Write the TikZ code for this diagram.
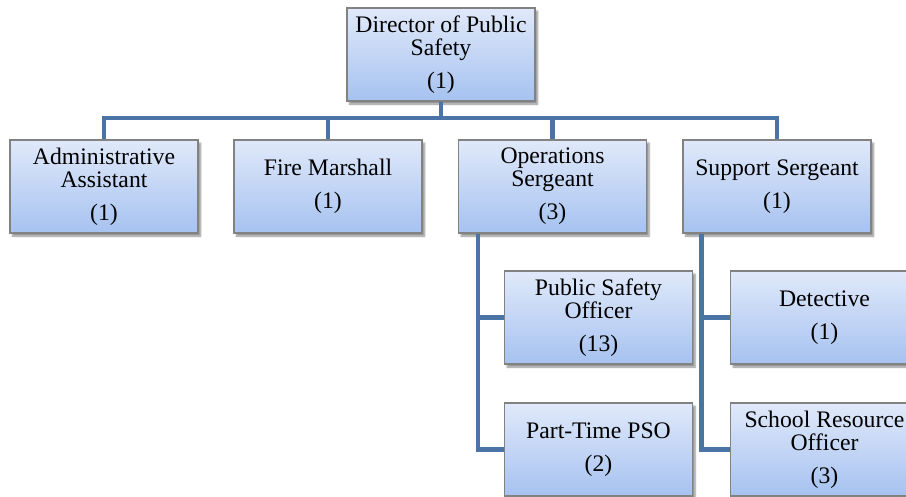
\documentclass[tikz,border=0pt]{standalone}
\usepackage{fontspec}
\setmainfont{Liberation Serif}
\usetikzlibrary{shadows.blur}
\definecolor{connblue}{RGB}{74,115,166}
\definecolor{boxtop}{RGB}{224,233,250}
\definecolor{boxbot}{RGB}{166,194,240}
\definecolor{boxedge}{RGB}{130,130,130}
\tikzset{
  orgbox/.style={draw=boxedge, line width=1.2pt, top color=boxtop, bottom color=boxbot,
    minimum width=188pt, minimum height=93pt, inner sep=0pt, align=center,
    font=\rmfamily\fontsize{23.7pt}{23pt}\selectfont,
    blur shadow={shadow xshift=2.5pt, shadow yshift=-3pt, shadow blur steps=6, shadow opacity=45}},
  conn/.style={draw=connblue, line width=4.8pt, line join=miter}
}
\begin{document}
\begin{tikzpicture}[x=1pt,y=-1pt]
\useasboundingbox (0,0) rectangle (906,496);
\clip (0,0) rectangle (906,496);
\coordinate (bus) at (441,118);
\node[orgbox] (dir) at (441,54.5) {Director of Public\\Safety\\[10pt](1)};
\node[orgbox] (admin) at (104,186.5) {Administrative\\Assistant\\[10pt](1)};
\node[orgbox] (fire) at (328,186.5) {Fire Marshall\\[10pt](1)};
\node[orgbox] (ops) at (552.5,186.5) {Operations\\Sergeant\\[10pt](3)};
\node[orgbox] (sup) at (777,186.5) {Support Sergeant\\[10pt](1)};
\node[orgbox] (pso) at (598.5,317.5) {Public Safety\\Officer\\[10pt](13)};
\node[orgbox] (pt) at (598.5,449.5) {Part-Time PSO\\[10pt](2)};
\node[orgbox] (det) at (824.5,317.5) {Detective\\[10pt](1)};
\node[orgbox] (sro) at (824.5,449.5) {School Resource\\Officer\\[10pt](3)};
\draw[conn] (dir.south) -- (bus);
\draw[conn] (bus) -| (admin.north);
\draw[conn] (bus) -| (fire.north);
\draw[conn] (bus) -| (ops.north);
\draw[conn] (bus) -| (sup.north);
\draw[conn] ([xshift=20pt]ops.south west) |- (pso.west);
\draw[conn] ([xshift=20pt]ops.south west) |- (pt.west);
\draw[conn] ([xshift=19pt]sup.south west) |- (det.west);
\draw[conn] ([xshift=19pt]sup.south west) |- (sro.west);
\end{tikzpicture}
\end{document}
